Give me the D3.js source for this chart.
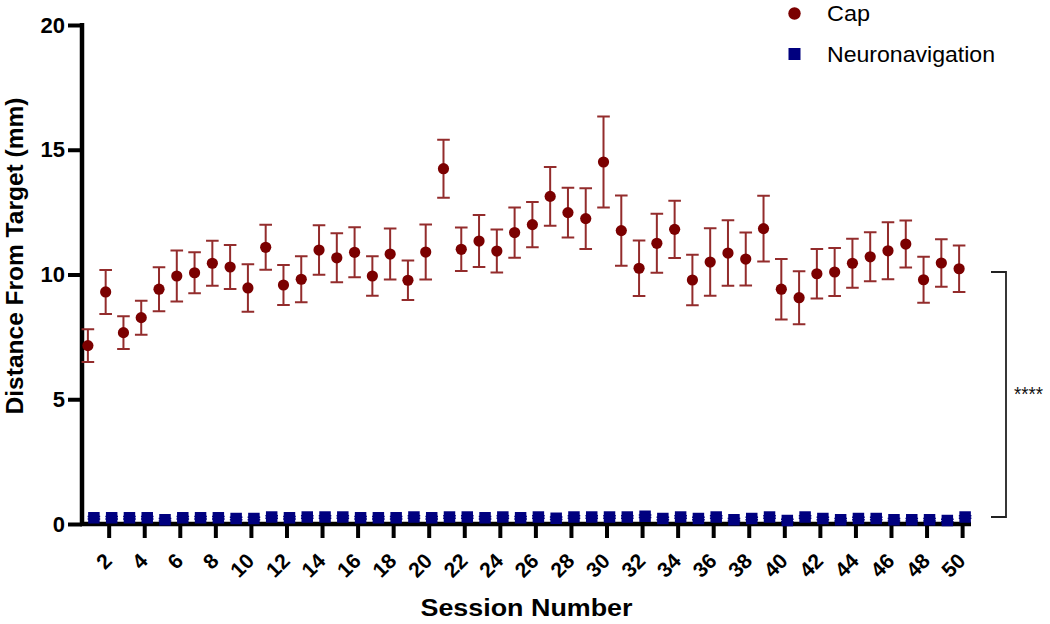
<!DOCTYPE html>
<html>
<head>
<meta charset="utf-8">
<script src="https://cdn.jsdelivr.net/npm/d3@7/dist/d3.min.js"></script>
<style>
  html, body { margin: 0; padding: 0; background: #fff; }
  svg { display: block; font-family: "Liberation Sans", Arial, Helvetica, sans-serif; }
</style>
</head>
<body>
<svg id="chart" width="1050" height="624"></svg>
<script>
// ---------- data ----------
const sessions = [1,2,3,4,5,6,7,8,9,10,11,12,13,14,15,16,17,18,19,20,21,22,23,24,25,
                  26,27,28,29,30,31,32,33,34,35,36,37,38,39,40,41,42,43,44,45,46,47,48,49,50];
const capMean = [7.15,9.30,7.67,8.27,9.41,9.94,10.07,10.45,10.30,9.46,
                 11.09,9.58,9.81,10.98,10.67,10.89,9.94,10.82,9.77,10.90,
                 14.24,11.01,11.34,10.94,11.68,12.00,13.13,12.48,12.24,14.51,
                 11.76,10.25,11.25,11.81,9.78,10.50,10.86,10.62,11.84,9.41,
                 9.07,10.03,10.10,10.45,10.71,10.95,11.22,9.79,10.46,10.23];
const capErr  = [0.66,0.88,0.66,0.68,0.88,1.02,0.82,0.90,0.88,0.95,
                 0.90,0.80,0.92,0.99,0.98,1.00,0.79,1.02,0.79,1.10,
                 1.16,0.87,1.04,0.86,1.01,0.91,1.18,1.00,1.22,1.82,
                 1.41,1.11,1.18,1.15,1.01,1.35,1.31,1.06,1.32,1.21,
                 1.06,0.99,0.96,0.98,0.98,1.14,0.94,0.92,0.95,0.93];
const neuroMean = [0.25,0.25,0.25,0.25,0.17,0.25,0.25,0.25,0.22,0.22,
                   0.28,0.25,0.28,0.28,0.28,0.25,0.25,0.25,0.28,0.25,
                   0.28,0.28,0.25,0.28,0.25,0.28,0.23,0.28,0.28,0.28,
                   0.28,0.31,0.22,0.28,0.22,0.28,0.17,0.22,0.28,0.14,
                   0.28,0.22,0.17,0.22,0.22,0.17,0.17,0.17,0.14,0.28];
const neuroErr = [0.05,0.05,0.05,0.05,0.05,0.05,0.05,0.05,0.05,0.05,
                  0.05,0.05,0.05,0.05,0.05,0.05,0.05,0.05,0.05,0.05,
                  0.05,0.05,0.05,0.05,0.05,0.05,0.05,0.05,0.05,0.05,
                  0.05,0.05,0.05,0.05,0.05,0.05,0.05,0.05,0.05,0.05,
                  0.05,0.05,0.05,0.05,0.05,0.05,0.05,0.05,0.05,0.05];
const xTickValues = [2,4,6,8,10,12,14,16,18,20,22,24,26,28,30,32,34,36,38,40,42,44,46,48,50];
const yTickValues = [0,5,10,15,20];
const seriesNames = ["Cap", "Neuronavigation"];
const sigLabel = "****";
const sigRange = [0.28, 10.1];

// ---------- styles ----------
const capColor = "#7b0000";
const capBarColor = "#932c2c";
const neuroColor = "#00007f";

const svg = d3.select("#chart");

const x = d3.scaleLinear().domain([0.5, 50.5]).range([82, 971]);
const y = d3.scaleLinear().domain([0, 20]).range([524, 25]);

// ---------- axes ----------
const xAxis = svg.append("g")
  .attr("transform", `translate(0,${y(0)})`)
  .call(d3.axisBottom(x).tickValues(xTickValues).tickSize(14).tickSizeOuter(0));
xAxis.select(".domain").attr("stroke", "#000").attr("stroke-width", 4.5)
  .attr("d", `M${x.range()[0] - 2},0H${x.range()[1]}`);
xAxis.selectAll(".tick line").attr("stroke", "#000").attr("stroke-width", 4);
xAxis.selectAll(".tick text")
  .attr("x", 0).attr("y", 0).attr("dy", "0.35em")
  .attr("transform", "translate(-1,33) rotate(-45)")
  .attr("text-anchor", "end")
  .attr("fill", "#000")
  .style("font-size", "21px").style("font-weight", "bold")
  .style("font-family", "'Liberation Sans', Arial, sans-serif");

const yAxis = svg.append("g")
  .attr("transform", `translate(${x.range()[0]},0)`)
  .call(d3.axisLeft(y).tickValues(yTickValues).tickSize(14).tickPadding(3).tickSizeOuter(0));
yAxis.select(".domain").attr("stroke", "#000").attr("stroke-width", 4.5)
  .attr("d", `M0,${y(20) - 2}V${y(0) + 2}`);
yAxis.selectAll(".tick line").attr("stroke", "#000").attr("stroke-width", 4);
yAxis.selectAll(".tick text")
  .attr("fill", "#000")
  .style("font-size", "22px").style("font-weight", "bold")
  .style("font-family", "'Liberation Sans', Arial, sans-serif");

// axis titles
svg.append("text")
  .attr("transform", `translate(23,256) rotate(-90)`)
  .attr("text-anchor", "middle")
  .style("font-size", "24.5px").style("font-weight", "bold")
  .attr("fill", "#000")
  .text("Distance From Target (mm)");

svg.append("text")
  .attr("x", (x.range()[0] + x.range()[1]) / 2)
  .attr("y", 616)
  .attr("text-anchor", "middle")
  .style("font-size", "23px").style("font-weight", "bold")
  .attr("textLength", 212).attr("lengthAdjust", "spacingAndGlyphs")
  .attr("fill", "#000")
  .text("Session Number");

// ---------- data marks ----------
const capData = sessions.map((s, i) => ({ s, m: capMean[i], e: capErr[i] }));
const neuroData = sessions.map((s, i) => ({ s, m: neuroMean[i], e: neuroErr[i] }));
const capOff = -3, neuroOff = 3, capHalf = 6.3;

// neuronavigation error bars + squares
const ng = svg.append("g");
ng.selectAll("path.nerr").data(neuroData).join("path")
  .attr("d", d => {
    const cx = x(d.s) + neuroOff, t = y(d.m + d.e), b = y(d.m - d.e);
    return `M${cx - capHalf},${t}H${cx + capHalf}M${cx},${t}V${b}M${cx - capHalf},${b}H${cx + capHalf}`;
  })
  .attr("stroke", neuroColor).attr("stroke-width", 1.5).attr("fill", "none");
ng.selectAll("rect").data(neuroData).join("rect")
  .attr("x", d => x(d.s) + neuroOff - 5.75)
  .attr("y", d => y(d.m) - 5.75)
  .attr("width", 11.5).attr("height", 11.5)
  .attr("fill", neuroColor);

// cap error bars + circles
const cg = svg.append("g");
cg.selectAll("path.cerr").data(capData).join("path")
  .attr("d", d => {
    const cx = x(d.s) + capOff, t = y(d.m + d.e), b = y(d.m - d.e);
    return `M${cx - capHalf},${t}H${cx + capHalf}M${cx},${t}V${b}M${cx - capHalf},${b}H${cx + capHalf}`;
  })
  .attr("stroke", capBarColor).attr("stroke-width", 2).attr("fill", "none");
cg.selectAll("circle").data(capData).join("circle")
  .attr("cx", d => x(d.s) + capOff)
  .attr("cy", d => y(d.m))
  .attr("r", 5.6)
  .attr("fill", capColor);

// ---------- significance bracket ----------
const bx = 1006, bl = 991;
svg.append("path")
  .attr("d", `M${bl},${y(sigRange[1])}H${bx}V${y(sigRange[0])}H${bl}`)
  .attr("fill", "none").attr("stroke", "#222").attr("stroke-width", 1.8);
svg.append("text")
  .attr("x", 1014).attr("y", 401)
  .style("font-size", "21px")
  .attr("textLength", 29).attr("lengthAdjust", "spacingAndGlyphs")
  .attr("fill", "#111")
  .text(sigLabel);

// ---------- legend ----------
const lg = svg.append("g");
lg.append("circle").attr("cx", 794.5).attr("cy", 13.5).attr("r", 6.2).attr("fill", capColor);
lg.append("rect").attr("x", 788.5).attr("y", 48).attr("width", 12).attr("height", 12).attr("fill", neuroColor);
lg.append("text").attr("x", 827).attr("y", 21)
  .style("font-size", "21.5px").attr("fill", "#000")
  .attr("textLength", 43).attr("lengthAdjust", "spacingAndGlyphs")
  .text(seriesNames[0]);
lg.append("text").attr("x", 827).attr("y", 62)
  .style("font-size", "21.5px").attr("fill", "#000")
  .attr("textLength", 168).attr("lengthAdjust", "spacingAndGlyphs")
  .text(seriesNames[1]);
</script>
</body>
</html>
